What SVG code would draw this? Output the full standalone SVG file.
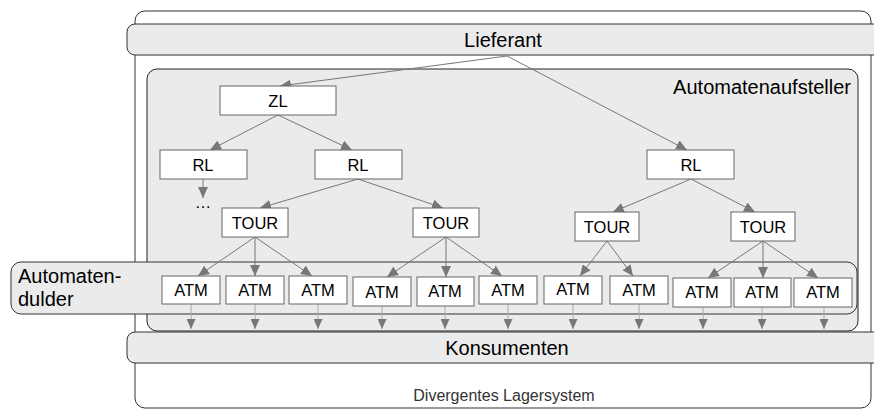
<svg xmlns="http://www.w3.org/2000/svg" width="874" height="410" viewBox="0 0 874 410">
  <style>
    .frame { fill: #ffffff; stroke: #333333; stroke-width: 1; }
    .band { fill: #ebebeb; stroke: #333333; stroke-width: 1; }
    .panel { fill: #ebebeb; stroke: #222222; stroke-width: 1; }
    .box { fill: #ffffff; stroke: #666666; stroke-width: 1; }
    .big { font-family: "Liberation Sans", Arial, sans-serif; font-size: 20px; fill: #000000; }
    .lbl { font-family: "Liberation Sans", Arial, sans-serif; font-size: 16.5px; fill: #000000; text-anchor: middle; }
    .note { font-family: "Liberation Sans", Arial, sans-serif; font-size: 16px; fill: #333333; text-anchor: middle; }
    .edge { stroke: #777777; stroke-width: 1; fill: none; marker-end: url(#arrow); }
    .out { stroke: #aaaaaa; stroke-width: 1; fill: none; marker-end: url(#arrowSmall); }
  </style>
  <defs>
    <marker id="arrow" markerUnits="userSpaceOnUse" markerWidth="11" markerHeight="10" refX="11" refY="5" orient="auto">
      <path d="M0,0 L11,5 L0,10 z" fill="#777777"/>
    </marker>
    <marker id="arrowSmall" markerUnits="userSpaceOnUse" markerWidth="10" markerHeight="9" refX="10" refY="4.5" orient="auto">
      <path d="M0,0 L10,4.5 L0,9 z" fill="#777777"/>
    </marker>
  </defs>

  <!-- outer system frame -->
  <g id="system">
    <rect class="frame" x="135" y="11" width="736" height="397" rx="10"/>
    <line x1="871" y1="56" x2="871" y2="331" stroke="#999999" stroke-width="2"/>
    <text class="note" x="504" y="401">Divergentes Lagersystem</text>
  </g>

  <!-- supplier band -->
  <g id="lieferant">
    <rect class="band" x="127" y="24" width="760" height="31" rx="8"/>
    <text class="big" x="503" y="47" text-anchor="middle">Lieferant</text>
  </g>

  <!-- operator panel -->
  <g id="automatenaufsteller">
    <rect class="panel" x="147" y="69" width="711" height="262" rx="10"/>
    <text class="big" x="851" y="94" text-anchor="end">Automatenaufsteller</text>
  </g>

  <!-- host band -->
  <g id="automatendulder">
    <rect class="band" x="11" y="262" width="846" height="52" rx="10"/>
    <text class="big" x="18" y="283">Automaten-</text>
    <text class="big" x="18" y="306">dulder</text>
  </g>

  <!-- consumer band -->
  <g id="konsumenten">
    <rect class="band" x="127" y="332" width="760" height="31" rx="8"/>
    <text class="big" x="507" y="355" text-anchor="middle">Konsumenten</text>
  </g>

  <!-- connectors -->
  <g id="connectors">
    <line class="edge" x1="507" y1="56" x2="280" y2="86"/>
    <line class="edge" x1="507" y1="56" x2="687" y2="150"/>
    <line class="edge" x1="278" y1="115" x2="210" y2="150"/>
    <line class="edge" x1="278" y1="115" x2="352" y2="150"/>
    <line class="edge" x1="203" y1="179" x2="203" y2="198"/>
    <line class="edge" x1="358" y1="179" x2="260" y2="208"/>
    <line class="edge" x1="358" y1="179" x2="443" y2="208"/>
    <line class="edge" x1="691" y1="179" x2="613" y2="212"/>
    <line class="edge" x1="691" y1="179" x2="755" y2="212"/>
    <line class="edge" x1="255" y1="237" x2="198" y2="276"/>
    <line class="edge" x1="255" y1="237" x2="255" y2="276"/>
    <line class="edge" x1="255" y1="237" x2="312" y2="276"/>
    <line class="edge" x1="446" y1="237" x2="387" y2="277"/>
    <line class="edge" x1="446" y1="237" x2="446" y2="277"/>
    <line class="edge" x1="446" y1="237" x2="502" y2="276"/>
    <line class="edge" x1="607" y1="241" x2="580" y2="276"/>
    <line class="edge" x1="607" y1="241" x2="633" y2="276"/>
    <line class="edge" x1="763" y1="241" x2="708" y2="278"/>
    <line class="edge" x1="763" y1="241" x2="763" y2="278"/>
    <line class="edge" x1="763" y1="241" x2="818" y2="278"/>
    <line class="out" x1="191" y1="304" x2="191" y2="329"/>
    <line class="out" x1="255" y1="304" x2="255" y2="329"/>
    <line class="out" x1="318" y1="304" x2="318" y2="329"/>
    <line class="out" x1="382" y1="306" x2="382" y2="329"/>
    <line class="out" x1="445" y1="306" x2="445" y2="329"/>
    <line class="out" x1="508" y1="304" x2="508" y2="329"/>
    <line class="out" x1="573" y1="304" x2="573" y2="329"/>
    <line class="out" x1="639" y1="304" x2="639" y2="329"/>
    <line class="out" x1="703" y1="307" x2="703" y2="329"/>
    <line class="out" x1="762" y1="307" x2="762" y2="329"/>
    <line class="out" x1="824" y1="307" x2="824" y2="329"/>
  </g>

  <!-- distribution tree nodes -->
  <g id="zl"><rect class="box" x="220" y="86" width="116" height="29"/><text class="lbl" x="278" y="107">ZL</text></g>
  <g id="rl1"><rect class="box" x="160" y="150" width="87" height="29"/><text class="lbl" x="203" y="171">RL</text></g>
  <g id="rl1-more"><text class="lbl" x="203" y="208">…</text></g>
  <g id="rl2"><rect class="box" x="315" y="150" width="87" height="29"/><text class="lbl" x="358" y="171">RL</text></g>
  <g id="rl3"><rect class="box" x="647" y="150" width="87" height="29"/><text class="lbl" x="691" y="171">RL</text></g>

  <g id="tour1"><rect class="box" x="222" y="208" width="66" height="29"/><text class="lbl" x="255" y="229">TOUR</text></g>
  <g id="tour2"><rect class="box" x="413" y="208" width="66" height="29"/><text class="lbl" x="446" y="229">TOUR</text></g>
  <g id="tour3"><rect class="box" x="575" y="212" width="64" height="29"/><text class="lbl" x="607" y="233">TOUR</text></g>
  <g id="tour4"><rect class="box" x="731" y="212" width="64" height="29"/><text class="lbl" x="763" y="233">TOUR</text></g>

  <g id="atm1"><rect class="box" x="162" y="276" width="58" height="28"/><text class="lbl" x="191" y="296">ATM</text></g>
  <g id="atm2"><rect class="box" x="226" y="276" width="58" height="28"/><text class="lbl" x="255" y="296">ATM</text></g>
  <g id="atm3"><rect class="box" x="289" y="276" width="58" height="28"/><text class="lbl" x="318" y="296">ATM</text></g>
  <g id="atm4"><rect class="box" x="353" y="277" width="58" height="29"/><text class="lbl" x="382" y="298">ATM</text></g>
  <g id="atm5"><rect class="box" x="417" y="277" width="57" height="29"/><text class="lbl" x="445" y="297">ATM</text></g>
  <g id="atm6"><rect class="box" x="479" y="276" width="58" height="28"/><text class="lbl" x="508" y="296">ATM</text></g>
  <g id="atm7"><rect class="box" x="544" y="276" width="58" height="28"/><text class="lbl" x="573" y="295">ATM</text></g>
  <g id="atm8"><rect class="box" x="610" y="276" width="58" height="28"/><text class="lbl" x="639" y="296">ATM</text></g>
  <g id="atm9"><rect class="box" x="673" y="278" width="58" height="29"/><text class="lbl" x="702" y="298">ATM</text></g>
  <g id="atm10"><rect class="box" x="734" y="278" width="57" height="29"/><text class="lbl" x="762" y="298">ATM</text></g>
  <g id="atm11"><rect class="box" x="794" y="278" width="58" height="29"/><text class="lbl" x="823" y="298">ATM</text></g>
</svg>
